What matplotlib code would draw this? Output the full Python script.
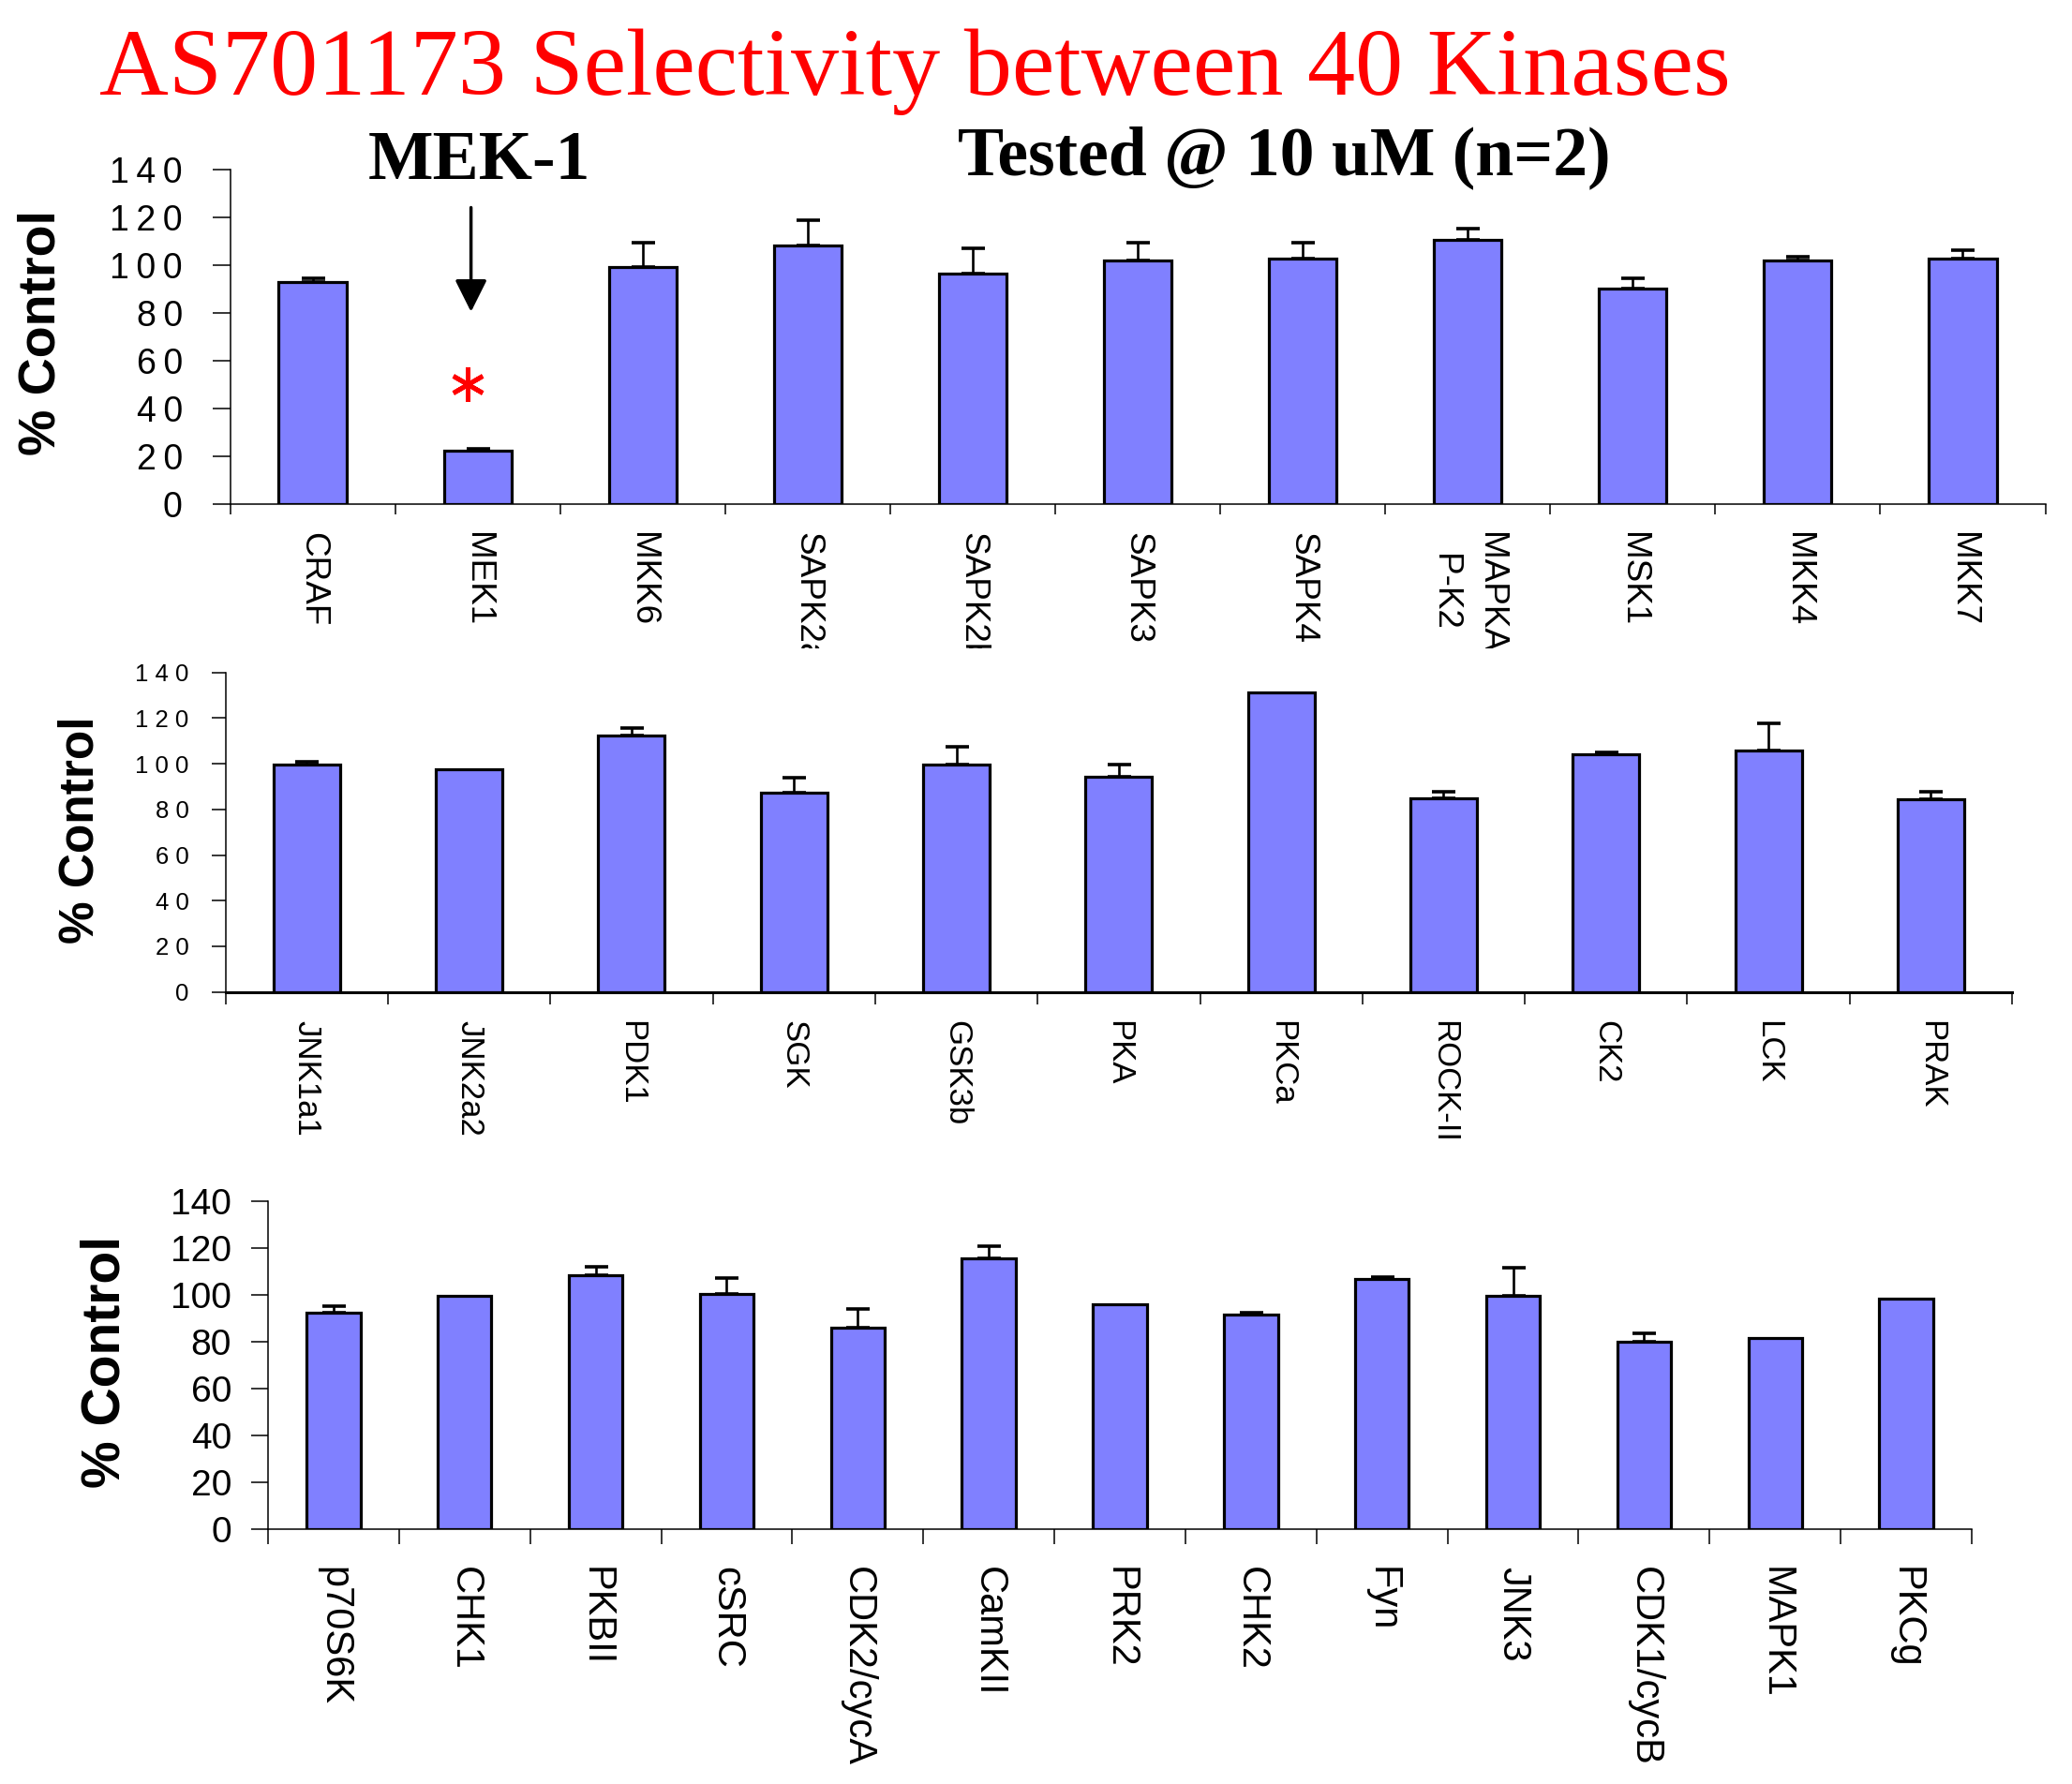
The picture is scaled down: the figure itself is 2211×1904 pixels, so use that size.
import numpy as np
import matplotlib.pyplot as plt
from matplotlib.transforms import Bbox, TransformedBbox

plt.rcParams['font.family'] = ['Liberation Sans', 'DejaVu Sans']

# data (% of control, upper error only)
kin1 = ["CRAF", "MEK1", "MKK6", "SAPK2a", "SAPK2b", "SAPK3", "SAPK4",
        "MAPKA\nP-K2", "MSK1", "MKK4", "MKK7"]
val1 = [93, 22.5, 99.3, 108, 96.3, 102, 102.8, 110.3, 90.3, 102, 102.8]
err1 = [1.6, 0.8, 10.2, 10.6, 10.7, 7.4, 6.6, 4.8, 4.3, 1.4, 3.3]

kin2 = ["JNK1a1", "JNK2a2", "PDK1", "SGK", "GSK3b", "PKA", "PKCa",
        "ROCK-II", "CK2", "LCK", "PRAK"]
val2 = [99.8, 97.6, 112.4, 87.2, 99.8, 94.2, 131.2, 85, 104, 106, 84.4]
err2 = [1.0, 0, 3.2, 6.8, 7.6, 5.4, 0, 2.8, 1.0, 11.6, 3.4]

kin3 = ["p70S6K", "CHK1", "PKBII", "cSRC", "CDK2/cycA", "CamKII", "PRK2",
        "CHK2", "Fyn", "JNK3", "CDK1/cycB", "MAPK1", "PKCg"]
val3 = [92.3, 99.5, 108.4, 100.4, 86, 115.6, 95.8, 91.4, 106.6, 99.5, 80, 81.4, 98.4]
err3 = [2.7, 0, 3.4, 6.8, 7.7, 5.1, 0, 0.8, 0.8, 12.0, 3.5, 0, 0]

yticks = [0, 20, 40, 60, 80, 100, 120, 140]
BAR = '#8080FF'

W, H = 2211, 1904
fig = plt.figure(figsize=(W / 100, H / 100), dpi=100)


def panel(rect, names, vals, errs, tsize, tsep, tpad, ylen, xlen, xsize, xpad, bottom_lw):
    ax = fig.add_axes(rect)
    x = np.arange(len(names))
    ax.bar(x, vals, width=0.41, color=BAR, edgecolor='black', linewidth=2.3, zorder=2)
    e = np.array(errs)
    m = e > 0
    ax.errorbar(x[m], np.array(vals)[m], yerr=[np.zeros(m.sum()), e[m]], fmt='none',
                ecolor='black', elinewidth=1.9, capsize=9, capthick=2.6, zorder=3)
    ax.set_xlim(-0.5, len(names) - 0.5)
    ax.set_ylim(0, 140)
    ax.set_yticks(yticks)
    ax.set_yticklabels([tsep.join(str(v)) for v in yticks], fontsize=tsize)
    ax.tick_params(axis='y', direction='out', length=ylen, width=1.1, pad=tpad)
    ax.set_xticks(x)
    ax.set_xticklabels(names, rotation=-90, fontsize=xsize, ha='center', va='top')
    ax.set_xticks(np.arange(len(names) + 1) - 0.5, minor=True)
    ax.tick_params(axis='x', which='major', length=0, pad=xpad)
    ax.tick_params(axis='x', which='minor', direction='out', length=xlen, width=1.1)
    for s in ['top', 'right']:
        ax.spines[s].set_visible(False)
    ax.spines['left'].set_linewidth(1.1)
    ax.spines['bottom'].set_linewidth(bottom_lw)
    return ax


def frac(left, right, top, bottom):
    return [left / W, 1 - bottom / H, (right - left) / W, (bottom - top) / H]


ax1 = panel(frac(245.5, 2182.5, 180.7, 538), kin1, val1, err1,
            27, '\u2009', 23, 13.5, 8, 26.6, 21.5, 1.1)
ax2 = panel(frac(240.7, 2147, 717.7, 1058.7), kin2, val2, err2,
            18.5, ' ', 17.5, 10.8, 9.4, 25, 22, 2.2)
ax3 = panel(frac(286, 2104, 1281.5, 1631.5), kin3, val3, err3,
            28, '', 15, 13, 11.5, 30, 29, 1.1)

# clip the long labels of the top panel like the original
clip = TransformedBbox(Bbox.from_extents(0, 1 - 692 / H, 1, 1), fig.transFigure)
for t in ax1.get_xticklabels():
    t.set_clip_box(clip)
    t.set_clip_on(True)
    if '\n' in t.get_text():
        t.set_linespacing(1.5)

# y axis titles
fig.text(45 / W, 1 - 355 / H, '% Control', rotation=90, ha='center', va='center',
         fontsize=40, fontweight='bold')
fig.text(86 / W, 1 - 886 / H, '% Control', rotation=90, ha='center', va='center',
         fontsize=37, fontweight='bold')
fig.text(113 / W, 1 - 1453 / H, '% Control', rotation=90, ha='center', va='center',
         fontsize=41, fontweight='bold')

# titles
fig.text(106 / W, 1 - 101 / H, 'AS701173 Selectivity between 40 Kinases', color='#FF0000',
         fontsize=73.6, family='Liberation Serif', ha='left', va='baseline')
fig.text(511 / W, 1 - 173 / H, 'MEK-1', fontsize=53, family='Liberation Serif',
         fontweight='bold', ha='center', va='center')
fig.text(1370 / W, 1 - 168 / H, 'Tested @ 10 uM (n=2)', fontsize=53, family='Liberation Serif',
         fontweight='bold', ha='center', va='center')

# MEK1 marker: arrow and red star
ax1.annotate('', xy=(0.96, 80.4), xytext=(0.96, 124),
             arrowprops=dict(arrowstyle='-|>,head_length=1.0,head_width=0.5',
                             mutation_scale=21, lw=2.5, color='black',
                             shrinkA=0, shrinkB=0))
ax1.plot([0.94], [50], marker=(6, 2, 0), ms=26, mew=3.5, color='red', clip_on=False)

fig.savefig('out.png', dpi=100)
